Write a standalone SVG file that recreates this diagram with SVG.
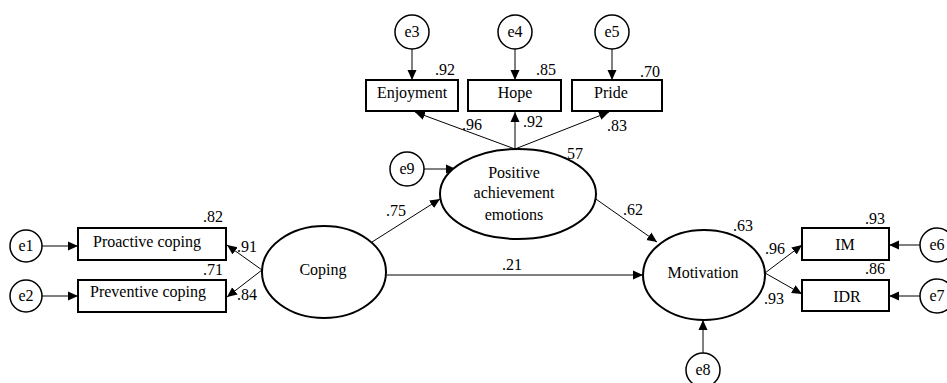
<svg xmlns="http://www.w3.org/2000/svg" width="947" height="383" viewBox="0 0 947 383" font-family="'Liberation Serif', 'Times New Roman', serif" font-size="16">
<defs>
<marker id="ah" markerUnits="userSpaceOnUse" markerWidth="11" markerHeight="10" refX="10" refY="5" orient="auto">
<polygon points="0,0.5 10,5 0,9.5" fill="#000"/>
</marker>
<style>
text{font-family:'Liberation Serif','Times New Roman',serif;font-size:16px;fill:#000;text-anchor:middle}
.box{fill:#fff;stroke:#000;stroke-width:2}
.lat{fill:#fff;stroke:#000;stroke-width:2}
.err{fill:#fff;stroke:#000;stroke-width:1.5}
.arr{stroke:#000;stroke-width:1;fill:none;marker-end:url(#ah)}
</style>
</defs>
<rect width="947" height="383" fill="#fff"/>
<g id="connectors">
<line class="arr" x1="42" y1="246" x2="78" y2="246"/>
<line class="arr" x1="42" y1="296" x2="78" y2="296"/>
<line class="arr" x1="262" y1="270" x2="227" y2="245"/>
<line class="arr" x1="262" y1="270" x2="227" y2="297"/>
<line class="arr" x1="372" y1="242" x2="440" y2="199"/>
<line class="arr" x1="387" y1="275" x2="643" y2="275"/>
<line class="arr" x1="515" y1="149" x2="415" y2="112"/>
<line class="arr" x1="515" y1="149" x2="515" y2="112"/>
<line class="arr" x1="515" y1="149" x2="609" y2="112"/>
<line class="arr" x1="412" y1="49" x2="412" y2="80"/>
<line class="arr" x1="515" y1="49" x2="515" y2="80"/>
<line class="arr" x1="612" y1="49" x2="612" y2="80"/>
<line class="arr" x1="424" y1="169" x2="456" y2="169"/>
<line class="arr" x1="593" y1="197" x2="657" y2="242"/>
<line class="arr" x1="765" y1="273" x2="802" y2="245"/>
<line class="arr" x1="765" y1="273" x2="802" y2="294"/>
<line class="arr" x1="920" y1="245" x2="889" y2="245"/>
<line class="arr" x1="920" y1="296" x2="889" y2="296"/>
<line class="arr" x1="703" y1="353" x2="703" y2="320"/>
</g>
<g id="e1"><circle class="err" cx="26" cy="246" r="16"/><text x="26" y="251">e1</text></g>
<g id="e2"><circle class="err" cx="26" cy="296" r="16"/><text x="26" y="301">e2</text></g>
<g id="e3"><circle class="err" cx="412" cy="32" r="17"/><text x="412" y="37">e3</text></g>
<g id="e4"><circle class="err" cx="515" cy="32" r="17"/><text x="515" y="37">e4</text></g>
<g id="e5"><circle class="err" cx="612" cy="32" r="17"/><text x="612" y="37">e5</text></g>
<g id="e6"><circle class="err" cx="937" cy="245" r="17"/><text x="937" y="250">e6</text></g>
<g id="e7"><circle class="err" cx="937" cy="296" r="17"/><text x="937" y="301">e7</text></g>
<g id="e8"><circle class="err" cx="703" cy="370" r="17"/><text x="703" y="375">e8</text></g>
<g id="e9"><circle class="err" cx="407" cy="169" r="17"/><text x="407" y="174">e9</text></g>
<g id="proactive"><rect class="box" x="78" y="228" width="148" height="32"/><text x="147" y="247">Proactive coping</text><text x="213" y="222">.82</text></g>
<g id="preventive"><rect class="box" x="78" y="280" width="148" height="32"/><text x="148" y="297">Preventive coping</text><text x="213" y="275">.71</text></g>
<g id="enjoyment"><rect class="box" x="366" y="80" width="92" height="31"/><text x="412" y="98">Enjoyment</text><text x="445" y="75">.92</text></g>
<g id="hope"><rect class="box" x="468" y="80" width="93" height="31"/><text x="515" y="98">Hope</text><text x="546" y="75">.85</text></g>
<g id="pride"><rect class="box" x="572" y="80" width="90" height="31"/><text x="611" y="98">Pride</text><text x="650" y="77">.70</text></g>
<g id="im"><rect class="box" x="802" y="228" width="87" height="32"/><text x="845" y="250">IM</text><text x="875" y="224">.93</text></g>
<g id="idr"><rect class="box" x="802" y="280" width="87" height="31"/><text x="847" y="302">IDR</text><text x="875" y="274">.86</text></g>
<g id="coping"><ellipse class="lat" cx="324" cy="272" rx="62" ry="46"/><text x="323" y="275">Coping</text></g>
<g id="pae"><ellipse class="lat" cx="518" cy="194" rx="78" ry="45"/><text x="514" y="178">Positive</text><text x="514" y="198">achievement</text><text x="514" y="220">emotions</text><text x="573" y="159">.57</text></g>
<g id="motivation"><ellipse class="lat" cx="704" cy="275" rx="61" ry="45"/><text x="703" y="278">Motivation</text><text x="743" y="231">.63</text></g>
<g id="labels">
<text x="247" y="252">.91</text>
<text x="247" y="300">.84</text>
<text x="472" y="130">.96</text>
<text x="533" y="127">.92</text>
<text x="617" y="131">.83</text>
<text x="396" y="216">.75</text>
<text x="633" y="215">.62</text>
<text x="512" y="270">.21</text>
<text x="775" y="254">.96</text>
<text x="774" y="304">.93</text>
</g>
</svg>
